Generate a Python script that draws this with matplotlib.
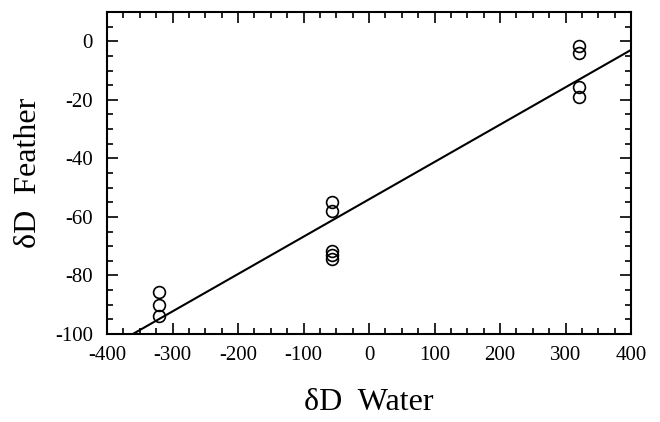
import numpy as np
import matplotlib.pyplot as plt
from matplotlib.ticker import MultipleLocator

# feather vs water deuterium values
water = [-320, -320, -320,
         -57, -57, -57, -57, -57,
         320, 320, 320, 320]
feather = [-85.5, -90, -94,
           -55, -58, -71.5, -73, -74.5,
           -1.5, -4, -15.5, -19]

# fitted line end points (x range of the axes)
line_x = [-400, 400]
line_slope = 0.1276
line_icpt = -54.0

plt.rcParams['font.family'] = ['Liberation Serif', 'DejaVu Serif']
plt.rcParams['axes.unicode_minus'] = False

fig = plt.figure(figsize=(6.6, 4.22), dpi=100)
ax = fig.add_axes([107/660, 1 - 334/422, 524/660, 322/422])

lx = np.array(line_x)
ax.plot(lx, line_slope * lx + line_icpt, color='black', lw=1.5)
ax.plot(water, feather, 'o', mfc='none', mec='black', ms=8.5, mew=1.2)

ax.set_xlim(-400, 400)
ax.set_ylim(-100, 10)
ax.xaxis.set_major_locator(MultipleLocator(100))
ax.xaxis.set_minor_locator(MultipleLocator(25))
ax.yaxis.set_major_locator(MultipleLocator(20))
ax.yaxis.set_minor_locator(MultipleLocator(5))
ax.tick_params(which='both', direction='in', top=True, right=True, width=1.2)
ax.tick_params(which='major', length=8, labelsize=15)
ax.tick_params(axis='x', which='major', pad=9)
ax.tick_params(axis='y', which='major', pad=10)
ax.tick_params(which='minor', length=4)
for s in ax.spines.values():
    s.set_linewidth(1.5)

ax.set_xlabel('δD  Water', fontsize=23, labelpad=16)
ax.set_ylabel('δD  Feather', fontsize=23, labelpad=9)

fig.savefig('out.png', dpi=100)
